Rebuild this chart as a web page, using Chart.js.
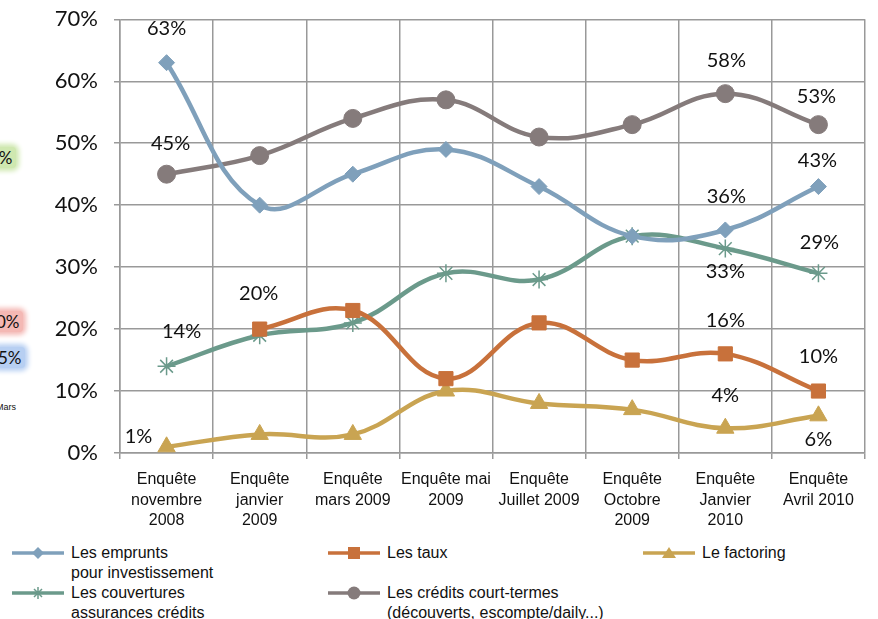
<!DOCTYPE html>
<html>
<head>
<meta charset="utf-8">
<script src="https://cdn.jsdelivr.net/npm/chart.js@4.4.1/dist/chart.umd.min.js"></script>
<style>
  body { margin: 0; background: #fff; width: 878px; height: 619px; overflow: hidden; position: relative; font-family: 'Liberation Sans Narrow', 'Liberation Sans', sans-serif; }
  #wrap { position: absolute; left: 0; top: 0; width: 878px; height: 540px; }
  .stray { position: absolute; font-family: Lato, sans-serif; font-size: 17px; color: #111; padding: 0 3px; border-radius: 4px; }
  .legend-item { position: absolute; font-size: 16px; line-height: 20px; color: #111; }
  .legend-item canvas { position: absolute; left: 0; top: 1px; }
  .legend-item span { position: absolute; white-space: nowrap; }
</style>
</head>
<body>
<div class="stray" style="left:-14px; top:147px; background:#cfe8b0; box-shadow:0 0 5px 3px #cfe8b0;">0%</div>
<div class="stray" style="left:-7px; top:311px; background:#f4b8b4; box-shadow:0 0 5px 3px #f4b8b4;">0%</div>
<div class="stray" style="left:-5px; top:347px; background:#b7cff2; box-shadow:0 0 5px 3px #b7cff2;">5%</div>
<div class="stray" style="left:-7px; top:402px; font-size:9px; font-family:'Liberation Sans',sans-serif;">Mars</div>
<div id="wrap"><canvas id="chart"></canvas></div>
<div id="legend"></div>
<script>
// data
var categories = [
  ['Enquête', 'novembre', '2008'],
  ['Enquête', 'janvier', '2009'],
  ['Enquête', 'mars 2009'],
  ['Enquête mai', '2009'],
  ['Enquête', 'Juillet 2009'],
  ['Enquête', 'Octobre', '2009'],
  ['Enquête', 'Janvier', '2010'],
  ['Enquête', 'Avril 2010']
];
var emprunts = [63, 40, 45, 49, 43, 35, 36, 43];
var taux = [null, 20, 23, 12, 21, 15, 16, 10];
var factoring = [1, 3, 3, 10, 8, 7, 4, 6];
var couvertures = [14, 19, 21, 29, 28, 35, 33, 29];
var credits = [45, 48, 54, 57, 51, 53, 58, 53];
var yTicks = [0, 10, 20, 30, 40, 50, 60, 70];

var seriesNames = [
  ['Les emprunts', 'pour investissement'],
  ['Les taux'],
  ['Le factoring'],
  ['Les couvertures', 'assurances crédits'],
  ['Les crédits court-termes', '(découverts, escompte/daily...)']
];

// label offsets [dx, dy] per point, null = no label
var labelPos = [
  [[0, -34], null, null, null, null, null, [1, -33], [-1, -26]],
  [null, [-1, -36], null, null, null, null, [0, -33], [0, -34]],
  [[-28, -10], null, null, null, null, null, [0, -33], [0, 24]],
  [[15, -35], null, null, null, null, null, [0, 23], [1, -31]],
  [[4, -31], null, null, null, null, null, [1, -33], [-2, -28]]
];

var colors = ['#7fa0bb', '#c8713b', '#c9a452', '#6b9a8b', '#857b7b'];
var pointStyles = ['rectRot', 'rect', 'triangle', 'star', 'circle'];
var pointRadius = [8, 10, 10, 9, 9];
var allData = [emprunts, taux, factoring, couvertures, credits];

var datasets = allData.map(function (d, i) {
  return {
    label: seriesNames[i].join(' '),
    data: d,
    borderColor: colors[i],
    backgroundColor: colors[i],
    pointBackgroundColor: colors[i],
    pointBorderColor: colors[i],
    pointStyle: pointStyles[i],
    pointRadius: pointRadius[i],
    pointBorderWidth: pointStyles[i] == 'star' ? 1.5 : 1,
    borderWidth: 4.5,
    tension: 0.4,
    fill: false
  };
});

var labelPlugin = {
  id: 'pointLabels',
  afterDatasetsDraw: function (chart) {
    var ctx = chart.ctx;
    ctx.save();
    ctx.font = '20px Lato, sans-serif';
    ctx.fillStyle = '#111';
    ctx.textAlign = 'center';
    ctx.textBaseline = 'middle';
    chart.data.datasets.forEach(function (ds, i) {
      var meta = chart.getDatasetMeta(i);
      meta.data.forEach(function (pt, j) {
        var off = labelPos[i][j];
        if (!off || ds.data[j] == null) return;
        ctx.fillText(ds.data[j] + '%', pt.x + off[0], pt.y + off[1]);
      });
    });
    ctx.restore();
  }
};

var ctx = document.getElementById('chart');
new Chart(ctx, {
  type: 'line',
  data: { labels: categories, datasets: datasets },
  plugins: [labelPlugin],
  options: {
    responsive: true,
    maintainAspectRatio: false,
    animation: false,
    layout: { padding: { left: 5, right: 13, top: 19, bottom: 0 } },
    plugins: { legend: { display: false }, tooltip: { enabled: false } },
    scales: {
      x: {
        offset: true,
        grid: { offset: true, color: '#999', lineWidth: 1.5, drawTicks: true, tickLength: 6 },
        border: { color: '#999', width: 1.5 },
        ticks: { color: '#111', font: { family: "'Liberation Sans Narrow', sans-serif", size: 16, lineHeight: 1.3 }, padding: 10, maxRotation: 0, autoSkip: false },
        afterFit: function (s) { s.height = 87; }
      },
      y: {
        min: 0, max: 70,
        afterBuildTicks: function (s) { s.ticks = yTicks.map(function (v) { return { value: v }; }); },
        grid: { color: '#999', lineWidth: 1.5, tickLength: 6 },
        border: { color: '#999', width: 1.5 },
        ticks: { color: '#111', font: { family: 'Lato, sans-serif', size: 22, lineHeight: 0.3 }, padding: 16, callback: function (v) { return v + '%'; } },
        afterFit: function (s) { s.width = 115; }
      }
    }
  }
});

// legend
var legendSlots = [[12, 543], [328, 543], [643, 543], [12, 583], [328, 583]];
var legend = document.getElementById('legend');
seriesNames.forEach(function (name, i) {
  var item = document.createElement('div');
  item.className = 'legend-item';
  item.style.left = legendSlots[i][0] + 'px';
  item.style.top = legendSlots[i][1] + 'px';
  var c = document.createElement('canvas');
  c.width = 54; c.height = 18;
  var g = c.getContext('2d');
  g.strokeStyle = colors[i]; g.fillStyle = colors[i]; g.lineWidth = 3.5;
  g.beginPath(); g.moveTo(0, 9); g.lineTo(52, 9); g.stroke();
  var x = 26, y = 9, r = 6;
  g.lineWidth = 1.5;
  g.beginPath();
  if (pointStyles[i] == 'rectRot') { g.moveTo(x, y - r); g.lineTo(x + r, y); g.lineTo(x, y + r); g.lineTo(x - r, y); g.closePath(); g.fill(); }
  else if (pointStyles[i] == 'rect') { g.fillRect(x - 6, y - 6, 12, 12); }
  else if (pointStyles[i] == 'triangle') { g.moveTo(x, y - 6); g.lineTo(x + 7, y + 5); g.lineTo(x - 7, y + 5); g.closePath(); g.fill(); }
  else if (pointStyles[i] == 'star') { g.moveTo(x - 6, y); g.lineTo(x + 6, y); g.moveTo(x, y - 6); g.lineTo(x, y + 6); g.moveTo(x - 4, y - 4); g.lineTo(x + 4, y + 4); g.moveTo(x - 4, y + 4); g.lineTo(x + 4, y - 4); g.stroke(); }
  else { g.arc(x, y, 6.5, 0, Math.PI * 2); g.fill(); }
  item.appendChild(c);
  var t = document.createElement('span');
  t.style.left = '59px';
  t.innerHTML = name.join('<br>');
  item.appendChild(t);
  legend.appendChild(item);
});
</script>
</body>
</html>
